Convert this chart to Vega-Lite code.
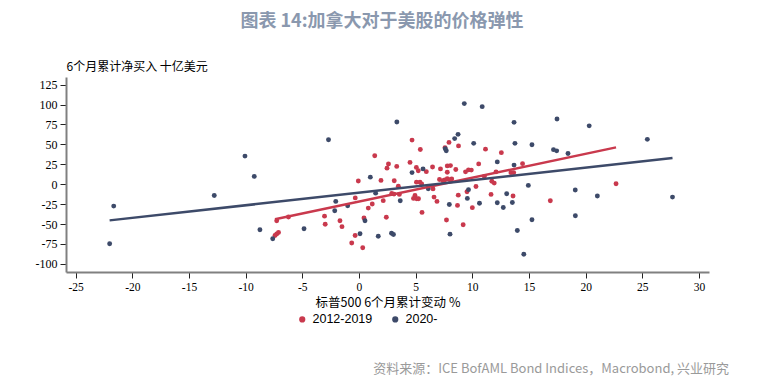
{
  "$schema": "https://vega.github.io/schema/vega-lite/v6.json",
  "background": "white",
  "padding": {"left": 35, "top": 13, "right": 10, "bottom": 8},
  "title": {
    "text": "图表 14:加拿大对于美股的价格弹性",
    "font": "Noto Sans CJK SC",
    "fontSize": 18,
    "fontWeight": "bold",
    "color": "#8A98AE",
    "anchor": "middle",
    "offset": 29
  },
  "config": {"view": {"stroke": null}},
  "resolve": {"legend": {"color": "independent"}},
  "datasets": {
    "pts": [
      {"p":"2012-2019","x":-7.26,"y":-45.9},{"p":"2012-2019","x":-6.22,"y":-41.1},{"p":"2012-2019","x":-7.41,"y":-64.4},{"p":"2012-2019","x":-7.26,"y":-62.5},{"p":"2012-2019","x":-7.10,"y":-60.6},{"p":"2012-2019","x":-3.04,"y":-40.1},{"p":"2012-2019","x":-2.98,"y":-50.2},{"p":"2012-2019","x":-1.68,"y":-45.9},{"p":"2012-2019","x":-1.50,"y":-53.3},{"p":"2012-2019","x":-0.33,"y":-17.2},{"p":"2012-2019","x":-0.06,"y":4.1},{"p":"2012-2019","x":-0.64,"y":-73.8},{"p":"2012-2019","x":-0.34,"y":-64.4},{"p":"2012-2019","x":0.33,"y":-79.7},{"p":"2012-2019","x":0.44,"y":-42.4},{"p":"2012-2019","x":0.82,"y":-30.0},{"p":"2012-2019","x":1.17,"y":-24.8},{"p":"2012-2019","x":1.39,"y":35.8},{"p":"2012-2019","x":1.94,"y":4.8},{"p":"2012-2019","x":2.14,"y":-20.6},{"p":"2012-2019","x":2.41,"y":-41.4},{"p":"2012-2019","x":2.47,"y":20.2},{"p":"2012-2019","x":2.60,"y":25.3},{"p":"2012-2019","x":3.11,"y":4.4},{"p":"2012-2019","x":3.33,"y":22.4},{"p":"2012-2019","x":3.47,"y":-2.5},{"p":"2012-2019","x":2.89,"y":-11.6},{"p":"2012-2019","x":3.09,"y":-12.4},{"p":"2012-2019","x":3.56,"y":-12.8},{"p":"2012-2019","x":4.50,"y":27.4},{"p":"2012-2019","x":4.68,"y":55.4},{"p":"2012-2019","x":5.41,"y":43.5},{"p":"2012-2019","x":5.06,"y":21.1},{"p":"2012-2019","x":5.23,"y":17.0},{"p":"2012-2019","x":5.94,"y":15.8},{"p":"2012-2019","x":6.49,"y":21.7},{"p":"2012-2019","x":5.07,"y":2.6},{"p":"2012-2019","x":5.38,"y":2.6},{"p":"2012-2019","x":5.53,"y":0.4},{"p":"2012-2019","x":4.94,"y":-14.1},{"p":"2012-2019","x":5.09,"y":-18.2},{"p":"2012-2019","x":5.25,"y":-18.2},{"p":"2012-2019","x":4.81,"y":-17.8},{"p":"2012-2019","x":6.62,"y":-16.2},{"p":"2012-2019","x":6.53,"y":-5.9},{"p":"2012-2019","x":5.56,"y":-35.4},{"p":"2012-2019","x":6.88,"y":-21.6},{"p":"2012-2019","x":7.19,"y":19.2},{"p":"2012-2019","x":7.59,"y":46.0},{"p":"2012-2019","x":7.94,"y":52.5},{"p":"2012-2019","x":8.78,"y":48.1},{"p":"2012-2019","x":7.79,"y":23.0},{"p":"2012-2019","x":8.07,"y":23.4},{"p":"2012-2019","x":8.54,"y":18.4},{"p":"2012-2019","x":7.79,"y":15.1},{"p":"2012-2019","x":9.40,"y":15.5},{"p":"2012-2019","x":9.66,"y":18.0},{"p":"2012-2019","x":9.91,"y":17.7},{"p":"2012-2019","x":10.56,"y":25.5},{"p":"2012-2019","x":11.16,"y":44.0},{"p":"2012-2019","x":12.56,"y":39.6},{"p":"2012-2019","x":14.43,"y":25.8},{"p":"2012-2019","x":13.41,"y":14.5},{"p":"2012-2019","x":13.65,"y":14.5},{"p":"2012-2019","x":12.09,"y":15.5},{"p":"2012-2019","x":11.06,"y":9.6},{"p":"2012-2019","x":11.72,"y":3.8},{"p":"2012-2019","x":11.93,"y":1.4},{"p":"2012-2019","x":7.10,"y":6.0},{"p":"2012-2019","x":7.39,"y":4.5},{"p":"2012-2019","x":7.57,"y":5.4},{"p":"2012-2019","x":8.18,"y":6.7},{"p":"2012-2019","x":8.76,"y":-13.7},{"p":"2012-2019","x":9.53,"y":-9.4},{"p":"2012-2019","x":10.32,"y":-2.8},{"p":"2012-2019","x":11.65,"y":-12.8},{"p":"2012-2019","x":13.59,"y":-14.7},{"p":"2012-2019","x":8.69,"y":-26.6},{"p":"2012-2019","x":10.00,"y":-29.4},{"p":"2012-2019","x":7.72,"y":-44.9},{"p":"2012-2019","x":9.19,"y":-50.8},{"p":"2012-2019","x":16.88,"y":-20.7},{"p":"2012-2019","x":22.68,"y":0.6},{"p":"2012-2019","x":7.79,"y":6.9},{"p":"2012-2019","x":8.03,"y":5.7},
      {"p":"2020-","x":-22.0,"y":-74.8},{"p":"2020-","x":-21.64,"y":-27.5},{"p":"2020-","x":-12.77,"y":-14.1},{"p":"2020-","x":-10.06,"y":35.3},{"p":"2020-","x":-9.24,"y":9.8},{"p":"2020-","x":-8.74,"y":-57.2},{"p":"2020-","x":-7.61,"y":-68.5},{"p":"2020-","x":-4.85,"y":-55.9},{"p":"2020-","x":-2.69,"y":55.9},{"p":"2020-","x":-2.05,"y":-21.6},{"p":"2020-","x":-2.14,"y":-33.3},{"p":"2020-","x":-1.00,"y":-27.0},{"p":"2020-","x":0.09,"y":-62.2},{"p":"2020-","x":0.53,"y":-45.9},{"p":"2020-","x":1.00,"y":8.9},{"p":"2020-","x":1.47,"y":-11.2},{"p":"2020-","x":1.70,"y":-65.4},{"p":"2020-","x":2.87,"y":-61.5},{"p":"2020-","x":3.04,"y":-63.1},{"p":"2020-","x":3.34,"y":78.1},{"p":"2020-","x":3.64,"y":-20.7},{"p":"2020-","x":4.68,"y":14.6},{"p":"2020-","x":5.65,"y":19.2},{"p":"2020-","x":6.11,"y":-5.7},{"p":"2020-","x":7.61,"y":44.6},{"p":"2020-","x":7.70,"y":42.1},{"p":"2020-","x":7.97,"y":-25.4},{"p":"2020-","x":8.03,"y":-62.7},{"p":"2020-","x":8.44,"y":57.3},{"p":"2020-","x":8.74,"y":62.6},{"p":"2020-","x":9.29,"y":101.2},{"p":"2020-","x":10.12,"y":51.3},{"p":"2020-","x":10.87,"y":97.4},{"p":"2020-","x":9.66,"y":-6.8},{"p":"2020-","x":9.56,"y":-17.8},{"p":"2020-","x":10.63,"y":-23.9},{"p":"2020-","x":12.20,"y":28.0},{"p":"2020-","x":12.20,"y":-23.3},{"p":"2020-","x":12.73,"y":-29.2},{"p":"2020-","x":13.03,"y":-11.9},{"p":"2020-","x":13.53,"y":-22.9},{"p":"2020-","x":13.68,"y":77.7},{"p":"2020-","x":13.76,"y":51.3},{"p":"2020-","x":13.68,"y":24.0},{"p":"2020-","x":13.97,"y":-58.1},{"p":"2020-","x":14.54,"y":-87.9},{"p":"2020-","x":14.94,"y":-1.5},{"p":"2020-","x":15.26,"y":49.6},{"p":"2020-","x":15.26,"y":-44.6},{"p":"2020-","x":17.16,"y":43.4},{"p":"2020-","x":17.44,"y":41.9},{"p":"2020-","x":17.47,"y":81.8},{"p":"2020-","x":18.44,"y":38.5},{"p":"2020-","x":19.08,"y":-7.2},{"p":"2020-","x":19.09,"y":-39.6},{"p":"2020-","x":20.31,"y":73.3},{"p":"2020-","x":21.03,"y":-14.7},{"p":"2020-","x":25.44,"y":56.3},{"p":"2020-","x":27.66,"y":-16.2}
    ]
  },
  "vconcat": [
    {
      "width": 643,
      "height": 195,
      "data": {"name": "pts"},
      "title": {
        "text": "资料来源：ICE BofAML Bond Indices，Macrobond, 兴业研究",
        "orient": "bottom",
        "anchor": "end",
        "font": "Noto Sans CJK SC",
        "fontSize": 13,
        "fontWeight": "normal",
        "color": "#9A9A9A",
        "offset": 37,
        "dx": 20
      },
      "encoding": {
        "x": {
          "field": "x", "type": "quantitative",
          "scale": {"domain": [-25.85, 30.88], "nice": false, "zero": false},
          "axis": {
            "values": [-25,-20,-15,-10,-5,0,5,10,15,20,25,30],
            "grid": false,
            "labelExpr": "replace(datum.label, '−', '-')",
            "domainColor": "#808080", "domainWidth": 2,
            "tickColor": "#222222", "tickSize": 6, "tickWidth": 1,
            "labelFont": "Liberation Serif", "labelFontSize": 11.5, "labelColor": "#000000",
            "labelPadding": 3,
            "title": "标普500 6个月累计变动 %",
            "titleFont": "Noto Sans CJK SC", "titleFontSize": 12.5, "titleFontWeight": "normal", "titleColor": "#000000",
            "titlePadding": 4
          }
        },
        "y": {
          "field": "y", "type": "quantitative",
          "scale": {"domain": [-110.2, 134.6], "nice": false, "zero": false},
          "axis": {
            "values": [-100,-75,-50,-25,0,25,50,75,100,125],
            "grid": false,
            "labelExpr": "replace(datum.label, '−', '-')",
            "domainColor": "#808080", "domainWidth": 2,
            "tickColor": "#222222", "tickSize": 6, "tickWidth": 1,
            "labelFont": "Liberation Serif", "labelFontSize": 12, "labelColor": "#000000",
            "labelPadding": 3,
            "title": "6个月累计净买入 十亿美元",
            "titleFont": "Noto Sans CJK SC", "titleFontSize": 12, "titleFontWeight": "normal", "titleColor": "#000000",
            "titleAngle": 0, "titleAlign": "left", "titleBaseline": "bottom",
            "titleX": 0, "titleY": -4
          }
        },
        "color": {
          "field": "p", "type": "nominal",
          "scale": {"domain": ["2012-2019", "2020-"], "range": ["#C9394D", "#3D4A69"]}
        }
      },
      "layer": [
        {
          "mark": {"type": "circle", "size": 24, "opacity": 1},
          "encoding": {
            "color": {
              "field": "p", "type": "nominal",
              "scale": {"domain": ["2012-2019", "2020-"], "range": ["#C9394D", "#3D4A69"]},
              "legend": {
                "title": null, "orient": "none", "direction": "horizontal",
                "legendX": 230, "legendY": 236,
                "symbolType": "circle", "symbolSize": 22,
                "labelFont": "Liberation Sans", "labelFontSize": 12.5, "labelColor": "#000000",
                "columnPadding": 16
              }
            }
          }
        },
        {
          "transform": [{"regression": "y", "on": "x", "groupby": ["p"]}],
          "mark": {"type": "line", "strokeWidth": 2.5},
          "encoding": {
            "color": {
              "field": "p", "type": "nominal",
              "scale": {"domain": ["2012-2019", "2020-"], "range": ["#C9394D", "#3D4A69"]},
              "legend": null
            }
          }
        }
      ]
    }
  ]
}
